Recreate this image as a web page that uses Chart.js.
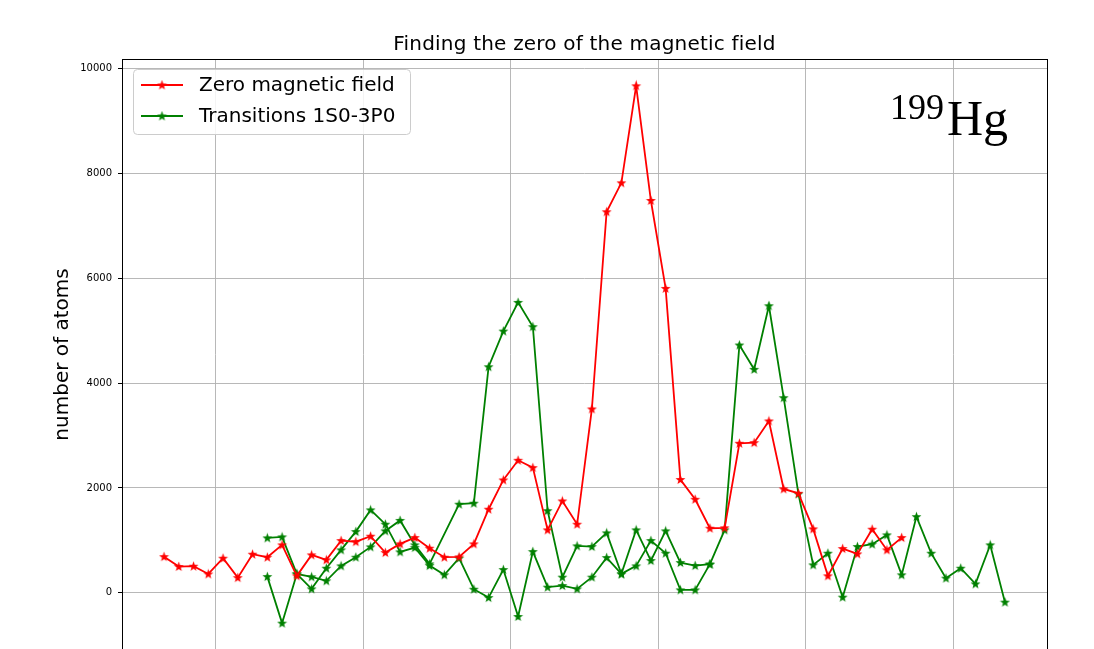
<!DOCTYPE html>
<html lang="en">
<head>
  <meta charset="UTF-8" />
  <title>Finding the zero of the magnetic field</title>
  <style>
    html, body {
      margin: 0;
      padding: 0;
      background: #fff;
      overflow: hidden;
    }
    canvas {
      display: block;
    }
  </style>
</head>
<body>
  <canvas id="chart" width="1094" height="700"></canvas>

  <script src="https://cdn.jsdelivr.net/npm/chart.js"></script>
  <script>
    // scan step numbers and atom counts
    const zeroFieldSteps = [0, 1, 2, 3, 4, 5, 6, 7, 8, 9, 10, 11, 12, 13, 14, 15, 16, 17, 18, 19, 20,
      21, 22, 23, 24, 25, 26, 27, 28, 29, 30, 31, 32, 33, 34, 35, 36, 37, 38, 39, 40,
      41, 42, 43, 44, 45, 46, 47, 48, 49, 50];
    const zeroFieldAtoms = [690, 502, 508, 360, 660, 290, 737, 680, 914, 324, 724, 629, 996, 975, 1080,
      768, 933, 1054, 851, 680, 685, 933, 1594, 2152, 2527, 2387, 1200, 1752, 1308, 3505,
      7264, 7816, 9664, 7479, 5803, 2160, 1784, 1232, 1240, 2851, 2863, 3276, 1981, 1898,
      1219, 324, 844, 743, 1213, 819, 1054];

    // transitions: first sweep (long one)
    const transSweepASteps = [7, 8, 9, 10, 11, 12, 13, 14, 15, 16, 17, 18, 20, 21, 22, 23, 24, 25, 26,
      27, 28, 29, 30, 31, 32, 33, 34, 35, 36, 37, 38, 39, 40, 41, 42, 43, 44, 45, 46, 47,
      48, 49, 50, 51, 52, 53, 54, 55, 56, 57];
    const transSweepAAtoms = [1048, 1067, 362, 305, 229, 514, 680, 876, 1181, 1381, 914, 552, 1690, 1709,
      4310, 4990, 5537, 5073, 1566, 299, 895, 882, 1143, 362, 1200, 615, 1181, 577, 520, 547,
      1200, 4724, 4261, 5472, 3720, 1886, 533, 756, -82, 882, 928, 1105, 343, 1453, 756, 280,
      470, 171, 914, -177];

    // transitions: second sweep (shorter)
    const transSweepBSteps = [7, 8, 9, 10, 11, 12, 13, 14, 15, 16, 17, 18, 19, 20, 21, 22, 23, 24, 25,
      26, 27, 28, 29, 30, 31, 32, 33, 34, 35, 36, 37];
    const transSweepBAtoms = [310, -577, 362, 76, 470, 819, 1168, 1581, 1309, 781, 863, 520, 343, 661, 70,
      -90, 444, -451, 787, 109, 139, 76, 299, 672, 362, 514, 996, 756, 57, 57, 547];

    const yTicks = [0, 2000, 4000, 6000, 8000, 10000];
    const xGridSteps = [3.5, 13.5, 23.5, 33.5, 43.5, 53.5];

    const FONT = 'DejaVu Sans';
    const TITLE = 'Finding the zero of the magnetic field';
    const gridColor = 'rgba(176,176,176,0.9)';

    function starMarker(color) {
      const c = document.createElement('canvas');
      c.width = 11;
      c.height = 11;
      const g = c.getContext('2d');
      g.fillStyle = color;
      g.beginPath();
      for (let k = 0; k < 10; k++) {
        const r = k % 2 ? 2.1 : 5.2;
        const a = -Math.PI / 2 + k * Math.PI / 5;
        g.lineTo(5.5 + r * Math.cos(a), 5.8 + r * Math.sin(a));
      }
      g.closePath();
      g.fill();
      return c;
    }

    const redStar = starMarker('#ff0000');
    const greenStar = starMarker('#008000');

    function toPoints(xs, ys) {
      return xs.map((x, i) => ({ x: x, y: ys[i] }));
    }

    // axes box + title centred over the plot area (matplotlib style)
    const frame = {
      id: 'frame',
      afterDraw(chart) {
        const { ctx, chartArea: a } = chart;
        ctx.save();
        ctx.strokeStyle = '#000';
        ctx.lineWidth = 1;
        ctx.strokeRect(Math.round(a.left) + 0.5, Math.round(a.top) + 0.5,
          Math.round(a.right - a.left), Math.round(a.bottom - a.top));
        ctx.fillStyle = '#000';
        ctx.font = '20px "' + FONT + '"';
        ctx.textAlign = 'center';
        ctx.textBaseline = 'middle';
        ctx.letterSpacing = '0.2px';
        ctx.fillText(TITLE, (a.left + a.right) / 2, 45);
        ctx.restore();
      }
    };

    const boxLegend = {
      id: 'boxLegend',
      afterDraw(chart) {
        const ctx = chart.ctx;
        ctx.save();
        ctx.beginPath();
        ctx.roundRect(133.5, 69.5, 277, 65, 4);
        ctx.fillStyle = 'rgba(255,255,255,0.85)';
        ctx.fill();
        ctx.strokeStyle = '#cccccc';
        ctx.lineWidth = 1;
        ctx.stroke();

        const items = [
          { label: chart.data.datasets[0].label, color: '#ff0000', marker: redStar, y: 85 },
          { label: chart.data.datasets[1].label, color: '#008000', marker: greenStar, y: 116 }
        ];
        ctx.font = '20px "' + FONT + '"';
        ctx.textBaseline = 'middle';
        items.forEach(it => {
          ctx.strokeStyle = it.color;
          ctx.lineWidth = 1.8;
          ctx.beginPath();
          ctx.moveTo(141, it.y);
          ctx.lineTo(183, it.y);
          ctx.stroke();
          ctx.drawImage(it.marker, 162 - 5.5, it.y - 5.5);
          ctx.fillStyle = '#000';
          ctx.fillText(it.label, 199, it.y + 1);
        });

        // isotope label
        ctx.textBaseline = 'alphabetic';
        ctx.fillStyle = '#000';
        ctx.font = '36px "Liberation Serif"';
        ctx.fillText('199', 890, 119);
        ctx.font = '50px "Liberation Serif"';
        ctx.fillText('Hg', 947, 135);
        ctx.restore();
      }
    };

    new Chart(document.getElementById('chart'), {
      type: 'line',
      data: {
        datasets: [
          {
            label: 'Zero magnetic field',
            data: toPoints(zeroFieldSteps, zeroFieldAtoms),
            borderColor: '#ff0000',
            borderWidth: 1.8,
            pointStyle: redStar,
            fill: false,
            tension: 0
          },
          {
            label: 'Transitions 1S0-3P0',
            data: toPoints(transSweepASteps, transSweepAAtoms),
            borderColor: '#008000',
            borderWidth: 1.8,
            pointStyle: greenStar,
            fill: false,
            tension: 0
          },
          {
            label: 'Transitions 1S0-3P0',
            data: toPoints(transSweepBSteps, transSweepBAtoms),
            borderColor: '#008000',
            borderWidth: 1.8,
            pointStyle: greenStar,
            fill: false,
            tension: 0
          }
        ]
      },
      options: {
        responsive: false,
        animation: false,
        devicePixelRatio: 1,
        layout: { padding: { left: 0, right: 47, top: 59, bottom: 50 } },
        plugins: {
          legend: { display: false },
          tooltip: { enabled: false },
          title: { display: false }
        },
        scales: {
          x: {
            type: 'linear',
            min: -2.85,
            max: 59.85,
            afterBuildTicks: s => { s.ticks = xGridSteps.map(v => ({ value: v })); },
            ticks: { display: false },
            grid: { color: gridColor, lineWidth: 1, drawTicks: false },
            border: { display: false }
          },
          y: {
            min: -1089,
            max: 10176,
            afterBuildTicks: s => { s.ticks = yTicks.map(v => ({ value: v })); },
            afterFit: s => { s.width = 122; },
            ticks: {
              color: '#000',
              padding: 6,
              font: { family: FONT, size: 10 },
              callback: v => String(v)
            },
            grid: { color: gridColor, lineWidth: 1, tickColor: '#000', tickLength: 4 },
            border: { display: false },
            title: {
              display: true,
              text: 'number of atoms',
              color: '#000',
              font: { family: FONT, size: 20 },
              padding: { top: 51, bottom: 0 }
            }
          }
        }
      },
      plugins: [frame, boxLegend]
    });
  </script>
</body>
</html>
